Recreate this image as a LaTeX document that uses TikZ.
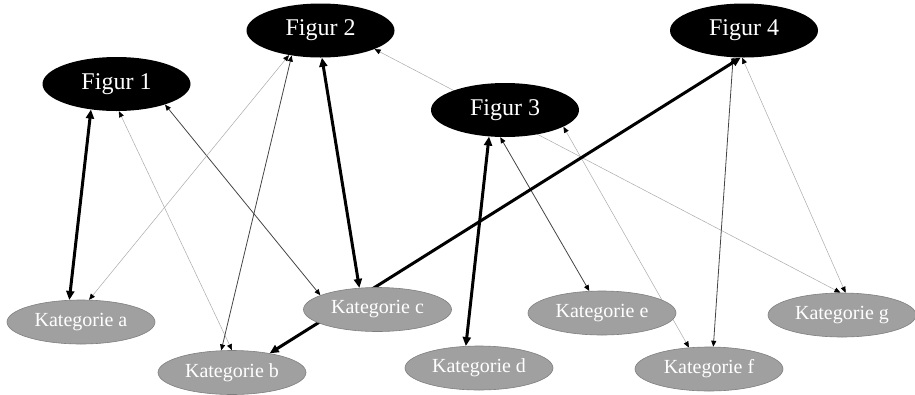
\documentclass[tikz,border=0pt]{standalone}
\usepackage{fontspec}
\setmainfont{Liberation Serif}
\usetikzlibrary{shapes.geometric,arrows.meta,backgrounds}
\definecolor{catfill}{HTML}{A0A0A0}
\definecolor{catline}{HTML}{7F7F7F}
\definecolor{lightln}{HTML}{AAAAAA}
\definecolor{darkln}{HTML}{444444}
\tikzset{
  figur/.style={ellipse, fill=black, text=white, inner sep=0pt,
    minimum width=148pt, minimum height=54pt, font=\fontsize{24pt}{26pt}\selectfont},
  kat/.style={ellipse, fill=catfill, draw=catline, line width=0.6pt, text=white, inner sep=0pt,
    minimum width=148pt, minimum height=44pt, font=\fontsize{20pt}{22pt}\selectfont},
  thickln/.style={line width=3pt, black,
    {Triangle[length=9pt,width=8pt]}-{Triangle[length=9pt,width=8pt]}},
  thinln/.style={line width=0.8pt, darkln,
    {Triangle[length=6pt,width=5pt,color=black]}-{Triangle[length=6pt,width=5pt,color=black]}},
  faintln/.style={line width=0.5pt, lightln,
    {Triangle[length=6pt,width=5pt,color=black]}-{Triangle[length=6pt,width=5pt,color=black]}}
}
\begin{document}
\begin{tikzpicture}[x=1pt,y=-1pt]
\useasboundingbox (0,0) rectangle (915,394);
\node[figur] (f1) at (116.5,84) {Figur 1};
\node[figur] (f2) at (320.5,30.5) {Figur 2};
\node[figur] (f3) at (505,110) {Figur 3};
\node[figur] (f4) at (744,30.5) {Figur 4};
\node[kat] (ka) at (81,322) {Kategorie a};
\node[kat] (kb) at (232,372.5) {Kategorie b};
\node[kat] (kc) at (377.5,309.5) {Kategorie c};
\node[kat] (kd) at (479,368) {Kategorie d};
\node[kat] (ke) at (602,313) {Kategorie e};
\node[kat] (kf) at (709,369) {Kategorie f};
\node[kat] (kg) at (842,315) {Kategorie g};
\begin{scope}[on background layer]
\draw[thickln] (f1.225.5) -- (ka.118.6);
\draw[faintln] (f1.275) -- (kb.90);
\draw[thinln] (f1.337.8) -- (kc.166.7);
\draw[faintln] (f2.218.2) -- (ka.70.8);
\draw[thinln] (f2.221.4) -- (kb.116);
\draw[thickln] (f2.273) -- (kc.130.7);
\draw[faintln] (f2.341.3) -- (kg.94.8);
\draw[thickln] (f3.239.6) -- (kd.121);
\draw[thinln] (f3.260.2) -- (ke.120.3);
\draw[faintln] (f3.344.7) -- (kf.133.7);
\draw[thinln] (f4.248.9) -- (kf.79.7);
\draw[faintln] (f4.266) -- (kg.81.6);
\draw[thickln] (f4.263.2) -- (kb.27.9);
\end{scope}
\end{tikzpicture}
\end{document}
